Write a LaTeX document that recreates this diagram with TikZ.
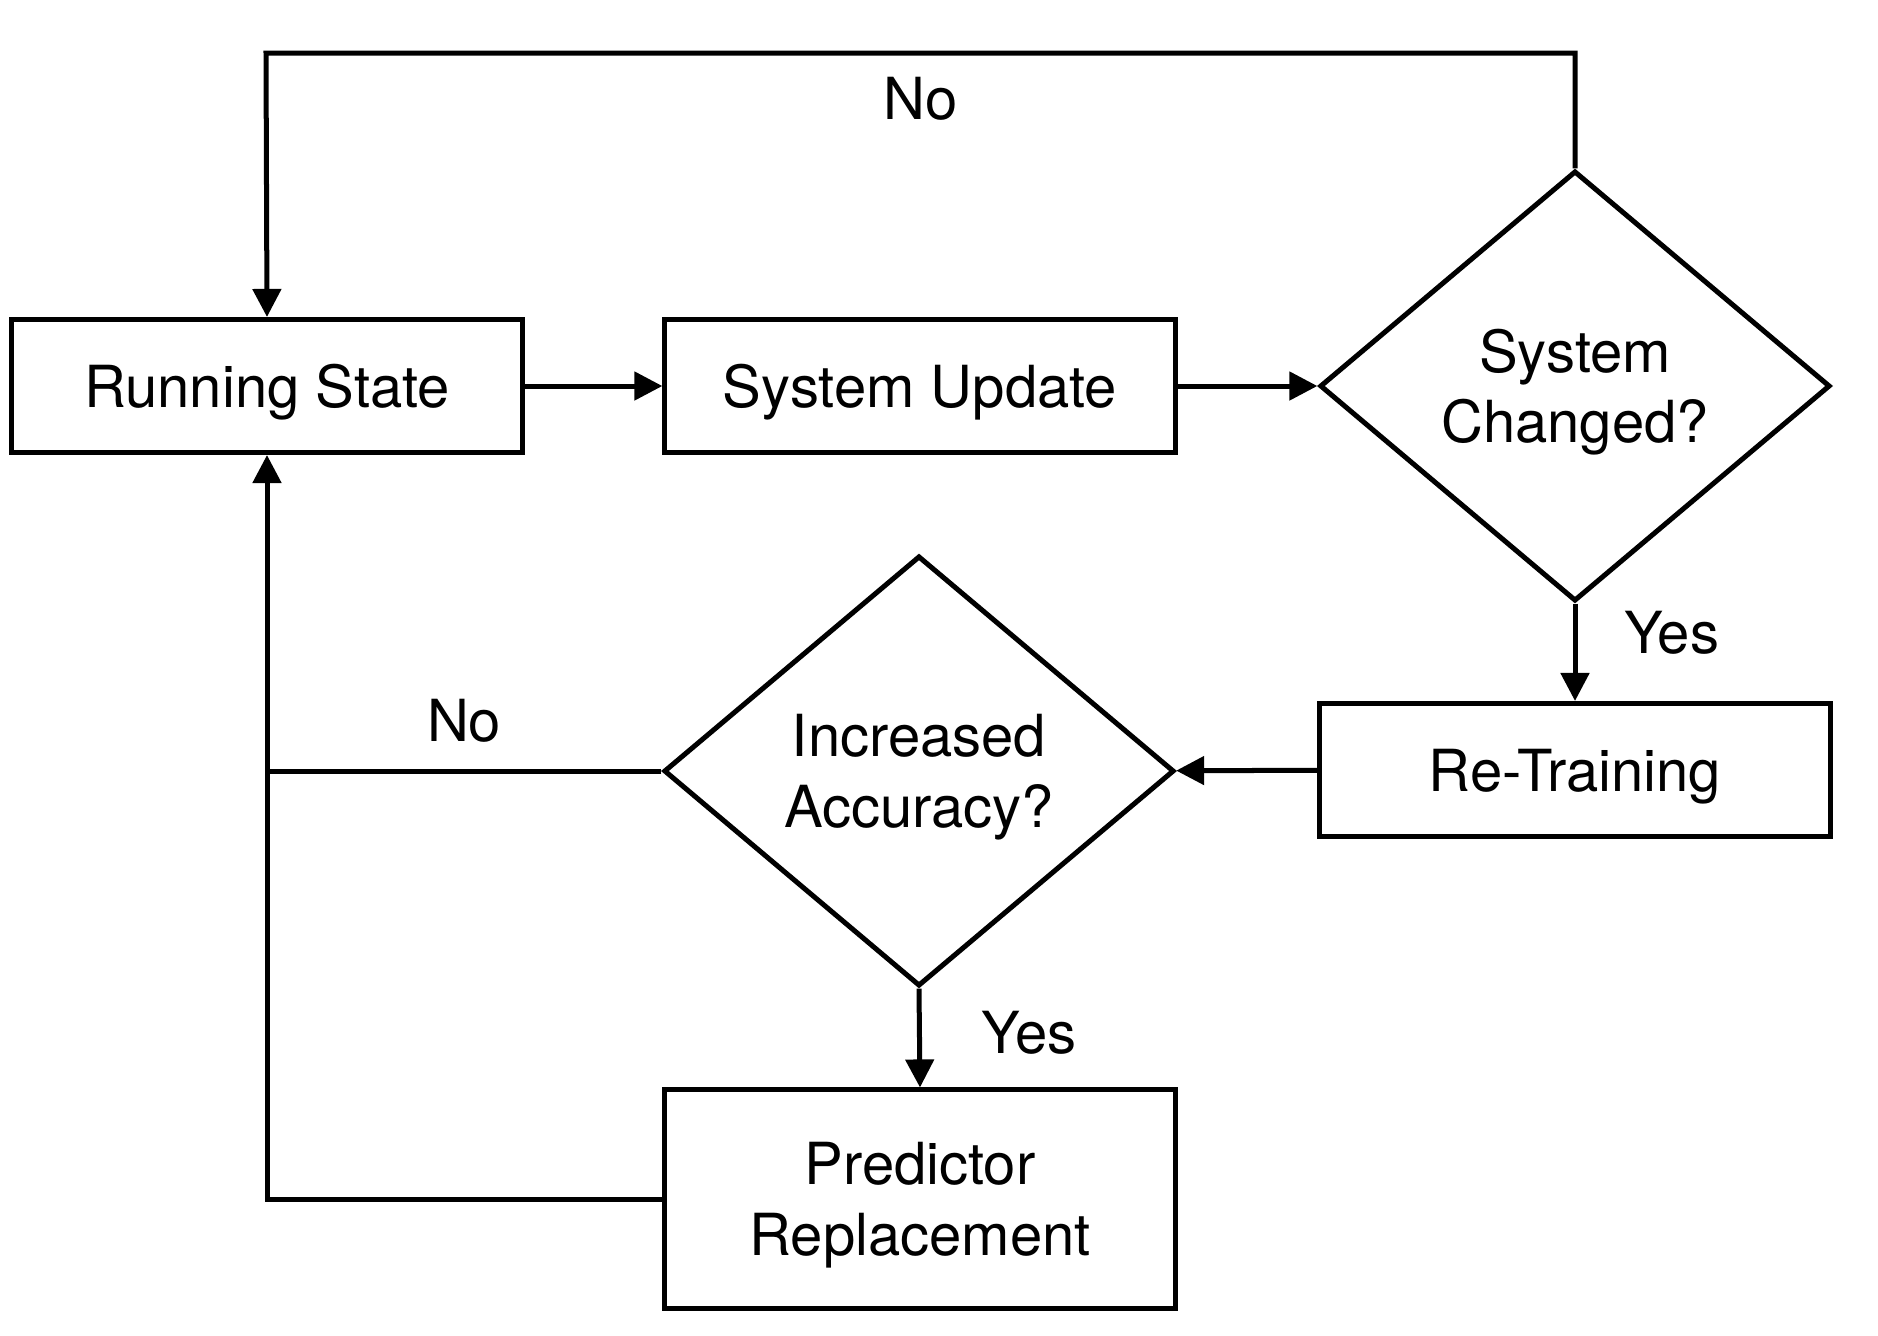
\documentclass[tikz,border=0pt]{standalone}
\usepackage{fontspec}
\setmainfont{TeX Gyre Heros}
\usetikzlibrary{arrows.meta, positioning, shapes.geometric}

\begin{document}
\begin{tikzpicture}[x=0.01cm, y=-0.01cm, line width=0.05cm,
  font=\fontsize{16.5}{20}\selectfont,
  box/.style={draw, rectangle, minimum width=5.1cm, minimum height=1.33cm, inner sep=0pt, text depth=0pt, align=center},
  decision/.style={draw, diamond, minimum width=5.1cm, minimum height=4.3cm, inner sep=0pt, text depth=0pt, align=center},
  flow/.style={-{Triangle[width=0.28cm, length=0.28cm]}}]
  \useasboundingbox (0,0) rectangle (1878,1336);

  \node[box] (running) at (267,386) {Running State};
  \node[box] (update) at (920,386) {System Update};
  \node[decision] (changed) at (1575,386) {System\\Changed?};
  \node[box] (retrain) at (1575,770) {Re-Training};
  \node[decision] (accuracy) at (919,771) {Increased\\Accuracy?};
  \node[box, minimum height=2.18cm] (replace) at (920,1199) {Predictor\\Replacement};

  \coordinate (topR) at (1575,53);
  \coordinate (topL) at (266,53);

  \draw[flow] (running) -- (update);
  \draw[flow] (update) -- (changed);
  \draw[flow] (changed.south) -- node[pos=0.3, right, xshift=0.35cm] {Yes} (retrain.north);
  \draw[flow] (retrain) -- (accuracy);
  \draw[flow] (accuracy.south) -- node[pos=0.45, right, xshift=0.48cm] {Yes} (replace.north);
  \draw (accuracy.west) -- node[above, yshift=0.14cm] {No} (accuracy.west -| running.south);
  \draw[flow] (replace.west) -| (running.south);
  \draw[flow] (changed.north) -- (topR) -- node[below, yshift=-0.1cm] {No} (topL) -- (running.north);
\end{tikzpicture}
\end{document}
